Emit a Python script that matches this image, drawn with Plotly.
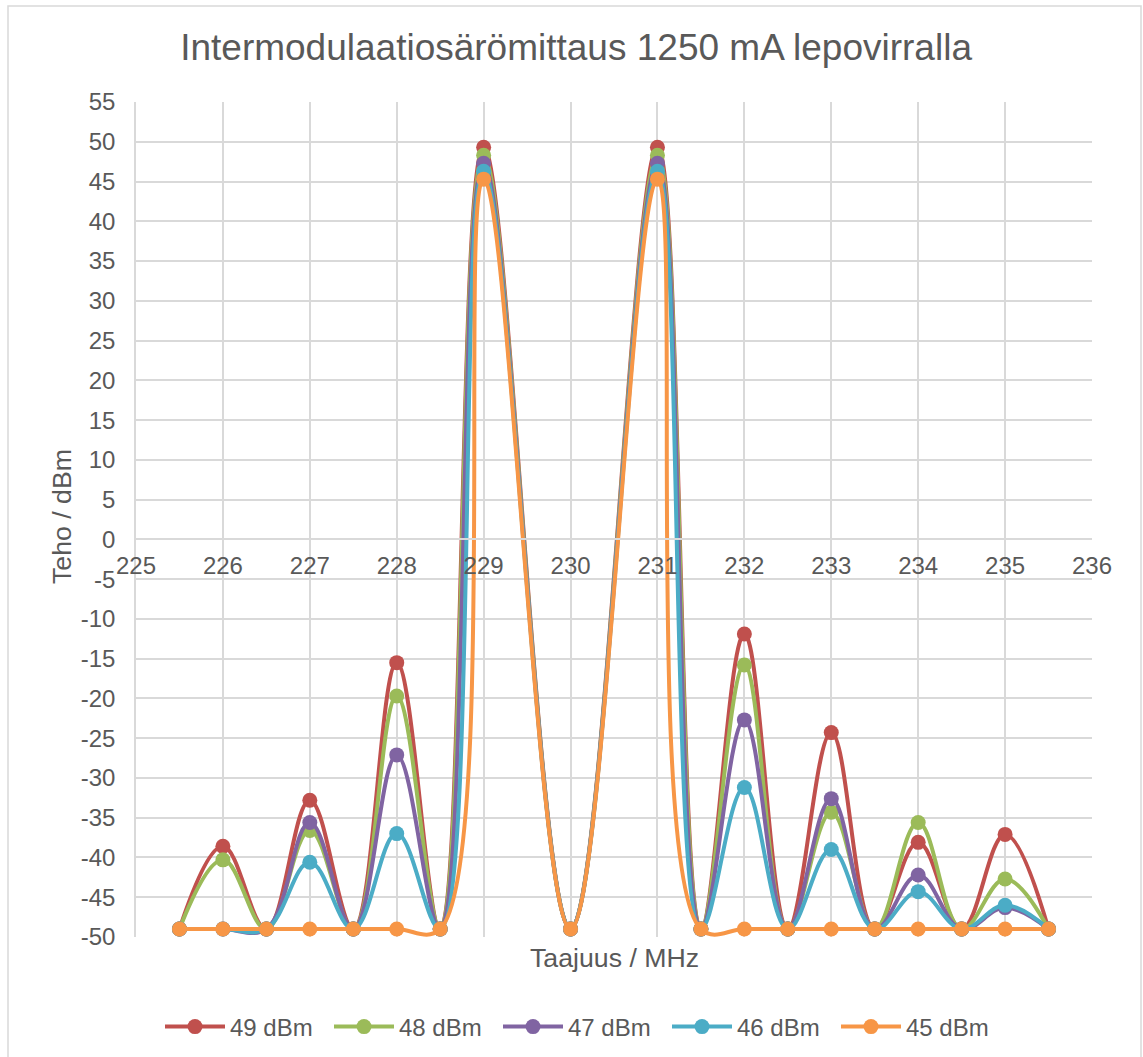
import plotly.graph_objects as go

freq = [225.5, 226, 226.5, 227, 227.5, 228, 228.5, 229, 230, 231, 231.5,
        232, 232.5, 233, 233.5, 234, 234.5, 235, 235.5]

p49 = [-49, -38.6, -49, -32.8, -49, -15.5, -49, 49.3, -49, 49.3, -49,
       -11.9, -49, -24.3, -49, -38.1, -49, -37.1, -49]
p48 = [-49, -40.3, -49, -36.6, -49, -19.7, -49, 48.3, -49, 48.3, -49,
       -15.8, -49, -34.3, -49, -35.6, -49, -42.7, -49]
p47 = [-49, -49, -49, -35.6, -49, -27.1, -49, 47.3, -49, 47.3, -49,
       -22.7, -49, -32.6, -49, -42.2, -49, -46.3, -49]
p46 = [-49, -49, -49, -40.6, -49, -37.0, -49, 46.3, -49, 46.3, -49,
       -31.2, -49, -39.0, -49, -44.3, -49, -46.0, -49]
p45 = [-49, -49, -49, -49, -49, -49, -49, 45.3, -49, 45.3, -49,
       -49, -49, -49, -49, -49, -49, -49, -49]

series_names = ["49 dBm", "48 dBm", "47 dBm", "46 dBm", "45 dBm"]
series_values = [p49, p48, p47, p46, p45]
colors = ["#C0504D", "#9BBB59", "#8064A2", "#4BACC6", "#F79646"]

y_ticks = list(range(-50, 56, 5))
y_tick_labels = [str(v) for v in y_ticks]

FONT = "Liberation Sans, Arial, sans-serif"
GRAY = "#595959"
GRID = "#D9D9D9"

fig = go.Figure()
for name, vals, col in zip(series_names, series_values, colors):
    fig.add_trace(go.Scatter(
        x=freq, y=vals, name=name, mode="lines+markers",
        line=dict(color=col, width=4, shape="spline", smoothing=1.1),
        marker=dict(color=col, size=15),
    ))

W, H = 1143, 1057
L, R, T, B = 136, 51, 102, 120
pw, ph = W - L - R, H - T - B

def px_x(p):
    return (p - L) / pw

def px_y(p):
    return (H - B - p) / ph

fig.update_layout(
    width=W, height=H,
    margin=dict(l=L, r=R, t=T, b=B, autoexpand=False),
    paper_bgcolor="white", plot_bgcolor="white",
    font=dict(family=FONT, color=GRAY, size=24),
    title=dict(text="Intermodulaatiosärömittaus 1250 mA lepovirralla",
               x=0.504, xref="container", y=1 - 47 / H, yref="container",
               xanchor="center", yanchor="middle",
               font=dict(family=FONT, size=37, color=GRAY)),
    xaxis=dict(range=[225, 236], dtick=1, tick0=225, showgrid=True,
               gridcolor=GRID, gridwidth=1.5, zeroline=False,
               showline=True, linecolor=GRID, linewidth=1.5,
               anchor="free", position=50 / 105, ticks="",
               ticklabelstandoff=5,
               tickfont=dict(size=24, color=GRAY, family=FONT)),
    yaxis=dict(range=[-50, 55], tickmode="array", tickvals=y_ticks,
               ticktext=y_tick_labels, showgrid=True,
               gridcolor=GRID, gridwidth=1.5, zeroline=False,
               showline=True, linecolor=GRID, linewidth=1.5, ticks="",
               ticklabelstandoff=14,
               tickfont=dict(size=24, color=GRAY, family=FONT)),
    legend=dict(orientation="h", x=px_x(160), xanchor="left",
                y=px_y(1027), yanchor="middle",
                font=dict(size=24, color=GRAY, family=FONT),
                entrywidth=94, itemwidth=60),
    showlegend=True,
    annotations=[
        dict(text="Taajuus / MHz", x=0.5, y=px_y(958), xref="paper",
             yref="paper", showarrow=False, xanchor="center",
             yanchor="middle", font=dict(size=26.7, color=GRAY, family=FONT)),
        dict(text="Teho / dBm", x=px_x(62), y=px_y(517), xref="paper",
             yref="paper", showarrow=False, textangle=-90,
             xanchor="center", yanchor="middle",
             font=dict(size=26.7, color=GRAY, family=FONT)),
    ],
    shapes=[
        dict(type="rect", xref="paper", yref="paper",
             x0=px_x(8), x1=px_x(1141), y0=px_y(1065), y1=px_y(6),
             line=dict(color=GRID, width=1.5), layer="below"),
    ],
)

fig.write_html("out.html")
